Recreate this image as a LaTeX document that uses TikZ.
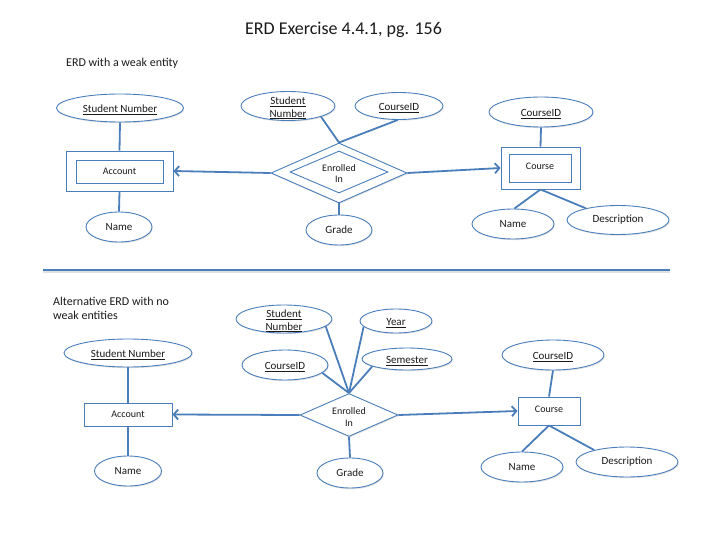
\documentclass[tikz,border=0pt]{standalone}
\usepackage{fontspec}
\setmainfont{Carlito}
\usetikzlibrary{shapes.geometric,arrows.meta,shadows}
\definecolor{erdblue}{HTML}{4A7EBB}
\definecolor{txt}{HTML}{1A1A1A}
\tikzset{
  shp/.style={draw=erdblue, line width=0.9pt, fill=white, inner sep=0pt,
    drop shadow={shadow xshift=0.8pt, shadow yshift=-1.2pt, opacity=0.22}},
  attr/.style={shp, ellipse},
  ent/.style={shp, rectangle},
  inbox/.style={draw=erdblue, line width=0.9pt, fill=white, inner sep=0pt, rectangle},
  rel/.style={shp, diamond},
  india/.style={draw=erdblue, line width=0.9pt, fill=white, inner sep=0pt, diamond},
  atxt/.style={font=\fontsize{11}{12.6}\selectfont, text=txt, align=center, inner sep=0pt},
  utxt/.style={atxt, yshift=-2pt},
  etxt/.style={font=\fontsize{10}{11.6}\selectfont, text=txt, align=center, inner sep=0pt},
  conn/.style={draw=erdblue, line width=1.8pt},
  arr/.style={conn, -{Straight Barb[length=4.5pt,width=10pt]}},
}
\begin{document}
\begin{tikzpicture}[x=1pt,y=-1pt]
\useasboundingbox (0,0) rectangle (720,540);

% titles
\node[font=\fontsize{18}{21}\selectfont, text=txt, inner sep=0pt] (title) at (343.5,30) {ERD Exercise 4.4.1, pg. 156};
\node[font=\fontsize{12}{14}\selectfont, text=txt, inner sep=0pt, anchor=west] (subA) at (66,63) {ERD with a weak entity};
\node[font=\fontsize{12}{13.5}\selectfont, text=txt, inner sep=0pt, anchor=west, align=left] (subB) at (53,308.5) {Alternative ERD with no\\weak entities};

% separator
\coordinate (sepL) at (43,270);
\coordinate (sepR) at (670,270);
\draw[black!12, line width=1.5pt] ([yshift=-1.8pt]sepL) -- ([yshift=-1.8pt]sepR);
\draw[erdblue, line width=2.4pt] (sepL) -- (sepR);

% ===== top diagram =====
\node[attr, minimum width=127pt, minimum height=28pt] (snA) at (120,108) {};
\node[utxt] (snAt) at (snA) {\underline{Student Number}};

\node[ent, minimum width=107pt, minimum height=40pt] (accAo) at (119.5,171) {};
\node[inbox, minimum width=87pt, minimum height=23pt] (accAi) at (119.5,171.5) {};
\node[etxt] (accAt) at (accAi) {Account};

\node[attr, minimum width=66pt, minimum height=30pt] (nmA) at (119,227) {};
\node[atxt] (nmAt) at (nmA) {Name};

\node[rel, minimum width=136pt, minimum height=60pt] (relAo) at (339,173) {};
\node[india, minimum width=98pt, minimum height=42pt] (relAi) at (339,172) {};
\node[etxt] (relAt) at (339,173.5) {Enrolled\\In};

\node[attr, minimum width=94pt, minimum height=29pt] (snA2) at (288,106) {};
\node[utxt] (snA2t) at (snA2) {\underline{Student}\\\underline{Number}};

\node[attr, minimum width=88pt, minimum height=27pt] (cidA) at (399,106) {};
\node[utxt] (cidAt) at (cidA) {\underline{CourseID}};

\node[attr, minimum width=66pt, minimum height=30pt] (grA) at (339,230) {};
\node[atxt] (grAt) at (grA) {Grade};

\node[attr, minimum width=104pt, minimum height=30pt] (cidA2) at (541,112) {};
\node[utxt] (cidA2t) at (cidA2) {\underline{CourseID}};

\node[ent, minimum width=79pt, minimum height=42pt] (crsAo) at (540.5,168) {};
\node[inbox, minimum width=62pt, minimum height=28pt] (crsAi) at (540,168) {};
\node[etxt] (crsAt) at (540,166.5) {Course};

\node[attr, minimum width=82pt, minimum height=30pt] (nmA2) at (513,224) {};
\node[atxt] (nmA2t) at (nmA2) {Name};

\node[attr, minimum width=102pt, minimum height=29pt] (dsA) at (618,220) {};
\node[atxt] (dsAt) at (dsA) {Description};

% connectors top
\draw[conn] (snA.south) -- (accAo.north);
\draw[conn] (accAo.south) -- (nmA.north);
\draw[conn] (snA2.-18) -- (relAo.north);
\draw[conn] (cidA.-95) -- (relAo.north);
\draw[conn] (relAo.south) -- (grA.north);
\draw[arr] (relAo.west) -- (accAo.east);
\draw[arr] (relAo.east) -- (crsAo.west);
\draw[conn] (cidA2.south) -- (crsAo.north);
\draw[conn] (crsAo.south) -- (nmA2.85);
\draw[conn] (crsAo.south) -- (dsA.160);

% ===== bottom diagram =====
\node[attr, minimum width=128pt, minimum height=28pt] (snB) at (128,353) {};
\node[utxt] (snBt) at (snB) {\underline{Student Number}};

\node[ent, minimum width=88pt, minimum height=23pt] (accB) at (128,414.5) {};
\node[etxt] (accBt) at (accB) {Account};

\node[attr, minimum width=67pt, minimum height=30pt] (nmB) at (128,471) {};
\node[atxt] (nmBt) at (nmB) {Name};

\node[rel, minimum width=98pt, minimum height=43pt] (relB) at (349,415) {};
\node[etxt] (relBt) at (349,417) {Enrolled\\In};

\node[attr, minimum width=96pt, minimum height=28pt] (snB2) at (284,319) {};
\node[utxt] (snB2t) at (snB2) {\underline{Student}\\\underline{Number}};

\node[attr, minimum width=72pt, minimum height=24pt] (yrB) at (396,321) {};
\node[utxt] (yrBt) at (yrB) {\underline{Year}};

\node[attr, minimum width=86pt, minimum height=30pt] (cidB) at (285,365) {};
\node[utxt] (cidBt) at (cidB) {\underline{CourseID}};

\node[attr, minimum width=90pt, minimum height=22pt] (smB) at (407,359) {};
\node[utxt] (smBt) at (smB) {\underline{Semester}};

\node[attr, minimum width=66pt, minimum height=30pt] (grB) at (350,473) {};
\node[atxt] (grBt) at (grB) {Grade};

\node[attr, minimum width=102pt, minimum height=30pt] (cidB2) at (553,355) {};
\node[utxt] (cidB2t) at (cidB2) {\underline{CourseID}};

\node[ent, minimum width=62pt, minimum height=28pt] (crsB) at (549,411) {};
\node[etxt] (crsBt) at (549,409) {Course};

\node[attr, minimum width=82pt, minimum height=30pt] (nmB2) at (522,467) {};
\node[atxt] (nmB2t) at (nmB2) {Name};

\node[attr, minimum width=102pt, minimum height=30pt] (dsB) at (627,462) {};
\node[atxt] (dsBt) at (dsB) {Description};

% connectors bottom
\draw[conn] (snB.south) -- (accB.north);
\draw[conn] (accB.south) -- (nmB.north);
\draw[conn] (snB2.-10) -- (relB.north);
\draw[conn] (yrB.190) -- (relB.north);
\draw[conn] (cidB.-12) -- (relB.north);
\draw[conn] (smB.192) -- (relB.north);
\draw[conn] (relB.south) -- (grB.north);
\draw[arr] (relB.west) -- (accB.east);
\draw[arr] (relB.east) -- (crsB.west);
\draw[conn] (cidB2.south) -- (crsB.north);
\draw[conn] (crsB.south) -- (nmB2.north);
\draw[conn] (crsB.south) -- (dsB.160);
\end{tikzpicture}
\end{document}
